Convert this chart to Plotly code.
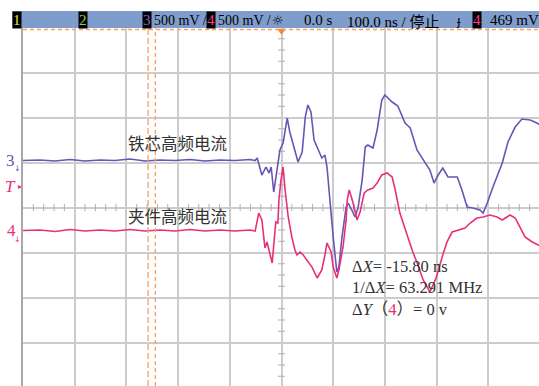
import plotly.graph_objects as go

# ---------------- data (time in ns, voltage in mV relative to channel marker) -------------
ch3_t = [-500, -467, -438, -409, -380, -351, -322, -293, -264, -235, -206, -177, -148, -119, -90, -61, -51,
         -47, -38, -30, -24, -20, -15, -3, 3, 11, 16, 24, 32, 40, 46, 51, 57, 63, 71, 78, 84, 88,
         100, 107, 111, 117, 125, 129, 136, 142, 148, 156, 162, 167, 177, 185, 194, 200, 214, 225,
         239, 249, 262, 274, 287, 295, 303, 312, 322, 332, 340, 349, 359, 370, 384, 390, 398, 409,
         427, 438, 452, 465, 481, 494, 500]
ch3_mv = [0, 6, -6, 11, -6, 6, 0, 17, -6, 6, 0, 11, -6, 6, 0, 11, 0,
          28, -161, -72, -139, -72, -350, 117, 194, 472, 317, 139, -17, 94, 483, 617, 539, 228, 117, 28, 61, -72,
          -850, -1239, -1183, -850, -517, -472, -550, -628, -528, -217, 150, 172, 139, 339, 672, 728, 650, 606,
          417, 361, 117, 6, -106, -250, -161, -83, -183, -183, -183, -328, -517, -528, -550, -583, -472, -294,
          -28, 206, 372, 461, 450, 417, 394]

ch4_t = [-500, -467, -438, -409, -380, -351, -322, -293, -264, -235, -206, -177, -148, -119, -90, -61, -51,
         -47, -44, -38, -32, -28, -20, -18, -15, -11, -7, -5, -1, 3, 7, 13, 20, 26, 30, 36, 42, 49, 59,
         69, 78, 84, 88, 96, 100, 107, 111, 119, 125, 127, 131, 138, 146, 152, 160, 167, 177, 185, 194,
         204, 214, 220, 229, 243, 254, 264, 274, 287, 299, 312, 320, 330, 341, 355, 365, 378, 390, 403,
         417, 427, 442, 452, 461, 471, 485, 496, 500]
ch4_mv = [0, 6, -11, 11, -6, 6, -6, 11, -6, 6, -6, 11, -6, 6, -6, 6, -6,
          128, 194, 117, -194, -128, -306, -361, -161, 94, 83, 339, 561, 706, 450, 150, -72, -217, -272, -239, -272, -328, -406,
          -528, -439, -272, -139, -239, -406, -528, -439, -183, 117, 339, 450, 317, 117, 206, 417, 450, 472, 528, 617,
          639, 594, 450, 194, -50, -239, -383, -550, -683, -528, -272, -128, -17, 6, 28, 83, 139, 150, 172,
          150, 117, 172, 139, 39, -72, -128, -161, -172]

# ---------------- settings --------------------------------------------------------------
W, H = 539, 386
ML, MT = 23, 28
VOLT_PER_DIV = 500.0        # mV / div
NS_PER_DIV = 100.0
CH3_OFF = 1.044             # marker position in divisions
CH4_OFF = -0.511
PURPLE = "#6a55b5"
PINK = "#e8307a"
ORANGE = "#f4a264"
GRID = "#cccccc"
SERIF = "Liberation Serif, Times New Roman, Noto Sans CJK SC, serif"
CJK = "Noto Sans CJK SC, sans-serif"

PW, PH = W - ML, H - MT
XR = [-500, -500 + PW / 51.7 * NS_PER_DIV]
YR = [-(H - 207.5) / 45.0, (207.5 - MT) / 45.0]


def px(x):
    return (x - ML) / PW


def py(y):
    return (H - y) / PH


fig = go.Figure()

# centre-line minor ticks
vt_y = [k * 0.25 for k in range(-15, 16) if k % 4 != 0]
fig.add_trace(go.Scatter(x=[0] * len(vt_y), y=vt_y, mode="markers", hoverinfo="skip",
                         marker=dict(symbol="line-ew", size=5, line=dict(width=1, color="#b0b0b0"))))
ht_x = [k * 20 for k in range(-24, 25) if k % 5 != 0]
fig.add_trace(go.Scatter(x=ht_x, y=[0] * len(ht_x), mode="markers", hoverinfo="skip",
                         marker=dict(symbol="line-ns", size=5, line=dict(width=1, color="#b0b0b0"))))

# cursors (vertical orange dashed)
for cx, dash in [(-258, "6px,3px"), (-244, "4px,3px")]:
    fig.add_shape(type="line", xref="x", yref="paper", x0=cx, x1=cx, y0=0, y1=1,
                  line=dict(color=ORANGE, width=1.3, dash=dash))
fig.add_shape(type="line", xref="paper", yref="paper", x0=0, x1=1, y0=1 - 1.5 / PH, y1=1 - 1.5 / PH,
              line=dict(color=ORANGE, width=1.3, dash="4px,3px"))

# waveforms
fig.add_trace(go.Scatter(x=ch3_t, y=[v / VOLT_PER_DIV + CH3_OFF for v in ch3_mv], mode="lines",
                         line=dict(color=PURPLE, width=1.6), hoverinfo="skip"))
fig.add_trace(go.Scatter(x=ch4_t, y=[v / VOLT_PER_DIV + CH4_OFF for v in ch4_mv], mode="lines",
                         line=dict(color=PINK, width=1.6), hoverinfo="skip"))

# trigger position marker
fig.add_trace(go.Scatter(x=[0], y=[YR[1] - 0.06], mode="markers", hoverinfo="skip", cliponaxis=False,
                         marker=dict(symbol="triangle-down", size=8, color="#f08a3c")))

# top status bar
fig.add_shape(type="rect", xref="paper", yref="paper", x0=px(12), x1=px(W + 2), y0=py(28), y1=py(11),
              fillcolor="#7f9dcc", line=dict(width=0), layer="above")

ann = []


def txt(x, y, s, color="black", size=15, family=SERIF, xanchor="left", bg=None, yanchor="middle"):
    d = dict(x=px(x), y=py(y), xref="paper", yref="paper", text=s, showarrow=False,
             xanchor=xanchor, yanchor=yanchor, font=dict(size=size, color=color, family=family))
    if bg:
        d.update(bgcolor=bg, borderpad=0)
    ann.append(d)


BAR = 14
txt(17, 20, "1", "#e6e23a", BAR + 1, xanchor="center", bg="black")
txt(82.5, 20, "2", "#8fd14f", BAR + 1, xanchor="center", bg="black")
txt(147, 20, "3", "#8a5fd0", BAR + 1, xanchor="center", bg="black")
txt(151.5, 20, "500 mV /", size=BAR)
txt(211, 20, "4", "#ff3c8c", BAR + 1, xanchor="center", bg="black")
txt(215.5, 20, "500 mV /", size=BAR)
txt(270, 20, "☼", "black", 13, family="DejaVu Sans")
txt(302, 20, "0.0 s", size=BAR + 1)
txt(345, 20, "100.0 ns / <span style='font-family:Noto Sans CJK SC'>停止</span>", size=BAR + 1)
txt(454, 20, "ɟ", "black", 13, family="DejaVu Sans")
txt(476.5, 20, "4", "#ff3c8c", BAR + 1, xanchor="center", bg="black")
txt(488, 20, "469 mV", size=BAR + 1)

# channel markers on the left
txt(10, 160, "3", PURPLE, 17, xanchor="center")
txt(17, 168, "↓", PURPLE, 8, family="DejaVu Sans", xanchor="center")
txt(10, 187, "<i>T</i>", PINK, 17, xanchor="center")
txt(20, 187, "▸", PINK, 8, family="DejaVu Sans", xanchor="center")
txt(11, 231, "4", PINK, 17, xanchor="center")
txt(17, 239, "↓", PINK, 8, family="DejaVu Sans", xanchor="center")

# labels
txt(177, 143, "铁芯高频电流", "#333333", 16.5, family=CJK, xanchor="center")
txt(177, 216, "夹件高频电流", "#333333", 16.5, family=CJK, xanchor="center")

# measurement readout
RO = 16.5
txt(350, 266, "Δ<i>X</i>= -15.80 ns", "#333333", RO)
txt(350, 287, "1/Δ<i>X</i>= 63.291 MHz", "#333333", RO)
txt(350, 309, "Δ<i>Y</i>（<span style='color:%s'>4</span>）= 0 v" % PINK, "#333333", RO)

fig.update_layout(
    width=W, height=H, margin=dict(l=ML, r=0, t=MT, b=0, pad=0),
    paper_bgcolor="white", plot_bgcolor="white", showlegend=False,
    annotations=ann,
    xaxis=dict(range=XR, dtick=NS_PER_DIV, tick0=0, showgrid=True, gridcolor=GRID, gridwidth=1.5,
               zeroline=False, showticklabels=False, ticks="", showline=False, fixedrange=True),
    yaxis=dict(range=YR, dtick=1, tick0=0, showgrid=True, gridcolor=GRID, gridwidth=1.5,
               zeroline=False, showticklabels=False, ticks="", showline=True, linecolor="#a8a8a8",
               linewidth=2, fixedrange=True),
)

fig.write_html("out.html", config=dict(displayModeBar=False))
